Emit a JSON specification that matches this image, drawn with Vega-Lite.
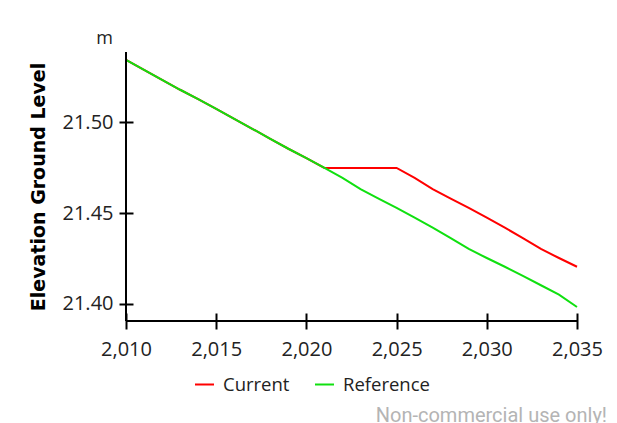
{
  "$schema": "https://vega.github.io/schema/vega-lite/v6.json",
  "width": 451,
  "height": 269,
  "autosize": {"type": "none"},
  "padding": {"left": 126, "top": 52, "right": 40, "bottom": 102},
  "background": "white",
  "title": {
    "text": "Non-commercial use only!",
    "orient": "bottom",
    "anchor": "end",
    "frame": "group",
    "font": "Roboto",
    "fontSize": 20,
    "fontWeight": "normal",
    "color": "#b4b4b4",
    "dx": 30,
    "offset": 12
  },
  "config": {
    "view": {"stroke": null},
    "axis": {
      "labelFont": "Open Sans",
      "labelFontSize": 20,
      "labelColor": "#222222",
      "domain": false,
      "tickColor": "#000000",
      "tickWidth": 2,
      "grid": false,
      "labelFlush": false,
      "labelOverlap": false
    },
    "legend": {
      "labelFont": "Open Sans",
      "labelFontSize": 18.5,
      "labelColor": "#222222"
    }
  },
  "data": {
    "values": [
      {"year": 2010, "series": "Current", "value": 21.5345},
      {"year": 2011, "series": "Current", "value": 21.5290},
      {"year": 2012, "series": "Current", "value": 21.5235},
      {"year": 2013, "series": "Current", "value": 21.5180},
      {"year": 2014, "series": "Current", "value": 21.5128},
      {"year": 2015, "series": "Current", "value": 21.5075},
      {"year": 2016, "series": "Current", "value": 21.5020},
      {"year": 2017, "series": "Current", "value": 21.4965},
      {"year": 2018, "series": "Current", "value": 21.4910},
      {"year": 2019, "series": "Current", "value": 21.4855},
      {"year": 2020, "series": "Current", "value": 21.4803},
      {"year": 2021, "series": "Current", "value": 21.4749},
      {"year": 2022, "series": "Current", "value": 21.4749},
      {"year": 2023, "series": "Current", "value": 21.4749},
      {"year": 2024, "series": "Current", "value": 21.4749},
      {"year": 2025, "series": "Current", "value": 21.4749},
      {"year": 2026, "series": "Current", "value": 21.4694},
      {"year": 2027, "series": "Current", "value": 21.4633},
      {"year": 2028, "series": "Current", "value": 21.4580},
      {"year": 2029, "series": "Current", "value": 21.4529},
      {"year": 2030, "series": "Current", "value": 21.4475},
      {"year": 2031, "series": "Current", "value": 21.4420},
      {"year": 2032, "series": "Current", "value": 21.4363},
      {"year": 2033, "series": "Current", "value": 21.4303},
      {"year": 2034, "series": "Current", "value": 21.4253},
      {"year": 2035, "series": "Current", "value": 21.4205},
      {"year": 2010, "series": "Reference", "value": 21.5345},
      {"year": 2011, "series": "Reference", "value": 21.5290},
      {"year": 2012, "series": "Reference", "value": 21.5235},
      {"year": 2013, "series": "Reference", "value": 21.5180},
      {"year": 2014, "series": "Reference", "value": 21.5128},
      {"year": 2015, "series": "Reference", "value": 21.5075},
      {"year": 2016, "series": "Reference", "value": 21.5020},
      {"year": 2017, "series": "Reference", "value": 21.4965},
      {"year": 2018, "series": "Reference", "value": 21.4910},
      {"year": 2019, "series": "Reference", "value": 21.4855},
      {"year": 2020, "series": "Reference", "value": 21.4803},
      {"year": 2021, "series": "Reference", "value": 21.4749},
      {"year": 2022, "series": "Reference", "value": 21.4694},
      {"year": 2023, "series": "Reference", "value": 21.4633},
      {"year": 2024, "series": "Reference", "value": 21.4580},
      {"year": 2025, "series": "Reference", "value": 21.4529},
      {"year": 2026, "series": "Reference", "value": 21.4475},
      {"year": 2027, "series": "Reference", "value": 21.4420},
      {"year": 2028, "series": "Reference", "value": 21.4363},
      {"year": 2029, "series": "Reference", "value": 21.4303},
      {"year": 2030, "series": "Reference", "value": 21.4253},
      {"year": 2031, "series": "Reference", "value": 21.4205},
      {"year": 2032, "series": "Reference", "value": 21.4155},
      {"year": 2033, "series": "Reference", "value": 21.4103},
      {"year": 2034, "series": "Reference", "value": 21.4051},
      {"year": 2035, "series": "Reference", "value": 21.3983}
    ]
  },
  "layer": [
    {
      "mark": {"type": "line", "strokeWidth": 2},
      "encoding": {
        "x": {
          "field": "year",
          "type": "quantitative",
          "scale": {"domain": [2010, 2035], "nice": false, "zero": false},
          "axis": {
            "values": [2010, 2015, 2020, 2025, 2030, 2035],
            "format": ",d",
            "offset": -8,
            "tickSize": 16,
            "labelPadding": 10,
            "title": "m",
            "titleAngle": 0,
            "titleX": -22,
            "titleY": -270,
            "titleAlign": "center",
            "titleBaseline": "alphabetic",
            "titleFont": "Open Sans",
            "titleFontSize": 18,
            "titleFontWeight": "normal",
            "titleColor": "#222222"
          }
        },
        "y": {
          "field": "value",
          "type": "quantitative",
          "scale": {"domain": [21.3906, 21.5388], "nice": false, "zero": false},
          "axis": {
            "values": [21.4, 21.45, 21.5],
            "format": ".2f",
            "offset": -7,
            "tickSize": 14,
            "labelPadding": 6,
            "title": "Elevation Ground Level",
            "titleFont": "DejaVu Sans",
            "titleFontSize": 19,
            "titleFontWeight": "bold",
            "titleColor": "#000000",
            "titlePadding": 14
          }
        },
        "color": {
          "field": "series",
          "type": "nominal",
          "scale": {"domain": ["Current", "Reference"], "range": ["#ff0000", "#10e010"]},
          "legend": {
            "title": null,
            "orient": "none",
            "direction": "horizontal",
            "legendX": 68,
            "legendY": 322,
            "symbolType": "stroke",
            "symbolSize": 361,
            "symbolStrokeWidth": 2,
            "labelOffset": 8,
            "columnPadding": 21
          }
        }
      }
    },
    {
      "mark": {"type": "rule", "color": "#000000", "strokeWidth": 2},
      "encoding": {"x": {"datum": 2010, "type": "quantitative"}}
    },
    {
      "mark": {"type": "rule", "color": "#000000", "strokeWidth": 2},
      "encoding": {"y": {"datum": 21.3906, "type": "quantitative"}}
    }
  ]
}
